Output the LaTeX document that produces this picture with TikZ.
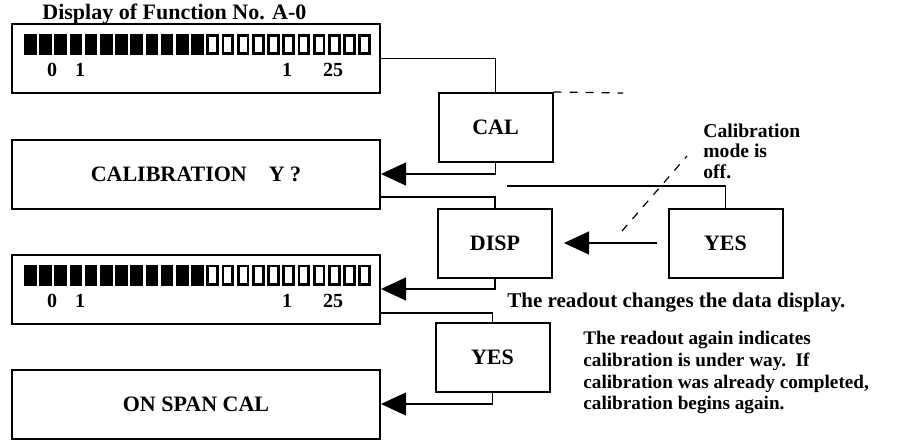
\documentclass[tikz,border=0pt]{standalone}
\usepackage{fontspec}
\setmainfont{Liberation Serif}
\usetikzlibrary{positioning,arrows.meta}

\begin{document}
\begin{tikzpicture}[
  x=0.5pt, y=-0.5pt,
  >={Triangle[length=12.5pt,width=11.5pt]},
  every node/.style={font=\bfseries\fontsize{11}{13}\selectfont},
  panelbox/.style={draw, line width=1pt, minimum width=184pt, minimum height=34.5pt},
  keybox/.style={draw, line width=1pt, minimum width=57pt, minimum height=34.5pt},
  link/.style={line width=0.6pt},
  arrow/.style={->, line width=0.6pt},
  dashline/.style={line width=0.6pt, dash pattern=on 4pt off 4pt},
  note/.style={inner sep=0pt, align=left, font=\bfseries\fontsize{9.8}{10.25}\selectfont},
  digit/.style={inner sep=0pt, font=\bfseries\fontsize{10}{12}\selectfont}
]
\useasboundingbox (0,0) rectangle (914,440);

% Pantallas de la izquierda
\node[panelbox] (disp1) at (196,58.5) {};
\node[inner sep=0pt, above right=-1pt and 15.5pt of disp1.north west] (title) {Display of Function No. A-0};
\node[panelbox] (calib) at (196,174) {CALIBRATION\hspace{1em}Y ?};
\node[panelbox] (disp2) at (196,289) {};
\node[panelbox] (onspan) at (196,404) {ON SPAN CAL};

% Segmentos y cifras de las pantallas
\foreach \scr in {disp1,disp2} {
  \foreach \i in {0,...,11}
    \fill ([shift={(13+15.2*\i,11)}]\scr.north west) rectangle ++(12.5,21);
  \foreach \i in {12,...,22}
    \draw[line width=1.4pt] ([shift={(14.4+15.2*\i,12.4)}]\scr.north west) rectangle ++(9.7,18.2);
  \node[digit] (\scr-a) at ([shift={(41,47)}]\scr.north west) {0};
  \node[digit] (\scr-b) at ([shift={(69,47)}]\scr.north west) {1};
  \node[digit] (\scr-c) at ([shift={(276,47)}]\scr.north west) {1};
  \node[digit] (\scr-d) at ([shift={(322,47)}]\scr.north west) {25};
}

% Teclas
\node[keybox] (cal) at (495.5,127.5) {CAL};
\node[keybox] (dispkey) at (495,243) {DISP};
\node[keybox] (yesr) at (725.5,243) {YES};
\node[keybox] (yesl) at (492.5,357.5) {YES};

% Notas
\node[note, anchor=north west] (offnote) at (703,123) {Calibration\\mode is\\off.};
\node[note, anchor=west, font=\bfseries\fontsize{10.5}{12}\selectfont] (changes) at (507,303) {The readout changes the data display.};
\node[note, anchor=north west, font=\bfseries\fontsize{9.6}{10.85}\selectfont] (again) at (583,331)
  {The readout again indicates\\calibration is under way.\ \ If\\calibration was already completed,\\calibration begins again.};

% Extremos libres
\coordinate (calend) at (623,93);
\coordinate (yesend) at (507,186);
\coordinate (offa) at (622,231);
\coordinate (offb) at (687,156);

% Lineas y flechas
\draw[link] (disp1.east) -| (cal.north);
\draw[dashline] (cal.north east) -- (calend);
\draw[arrow] (cal.south) |- (calib.east);
\draw[link] ([yshift=-11.5pt]calib.east) -| (dispkey.north);
\draw[link] (yesr.north) |- (yesend);
\draw[dashline] (offa) -- (offb);
\draw[arrow, shorten <=5.5pt, shorten >=5.5pt] (yesr.west) -- (dispkey.east);
\draw[arrow] (dispkey.south) |- (disp2.east);
\draw[link] ([yshift=-12pt]disp2.east) -| (yesl.north);
\draw[arrow] (yesl.south) |- (onspan.east);

\end{tikzpicture}
\end{document}
